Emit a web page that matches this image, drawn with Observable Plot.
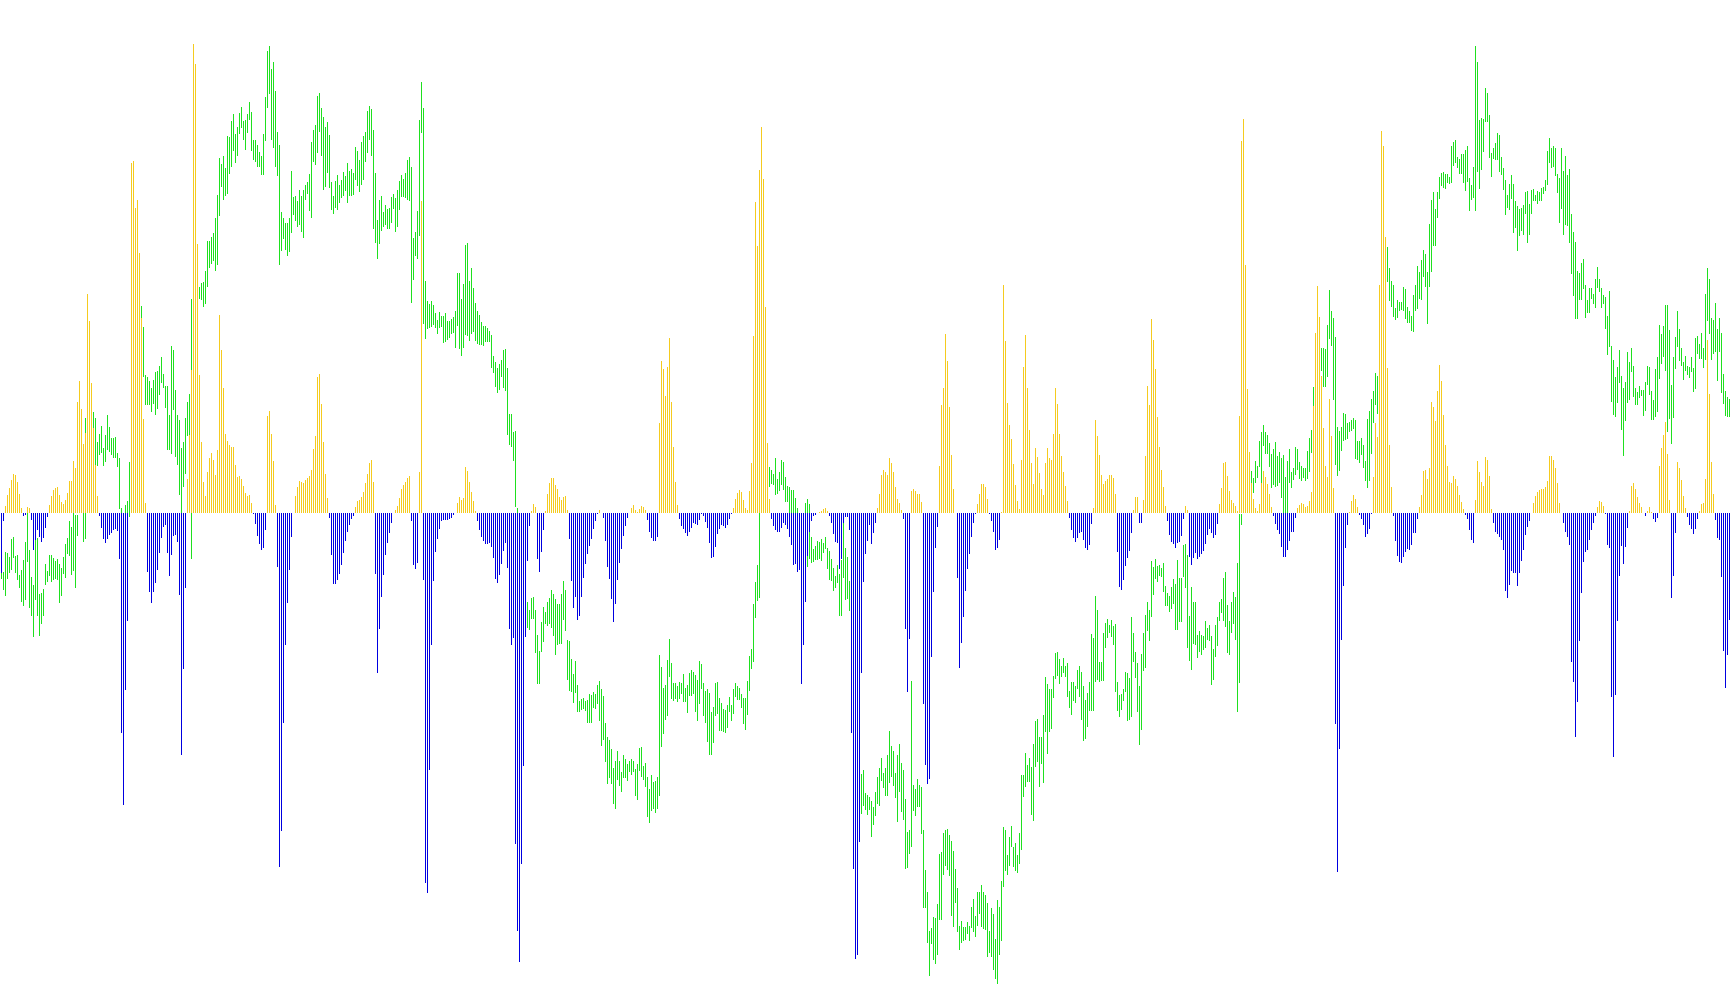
<!DOCTYPE html>
<html>
<head>
<meta charset="utf-8">
<title>Range bars and histogram</title>
<style>
html,body{margin:0;padding:0;background:#fff;overflow:hidden}
svg{display:block}
</style>
<script src="https://cdn.jsdelivr.net/npm/d3@7"></script>
<script src="https://cdn.jsdelivr.net/npm/@observablehq/plot@0.6"></script>
</head>
<body>
<div id="chart"></div>
<script>
const histogramA = [-60,-8,7,18,25,33,39,38,31,19,5,-3,-2,6,5,-7,-37,-27,-17,-24,-29,-25,-15,-4,8,17,23,25,26,18,11,9,13,20,32,32,52,45,111,132,104,69,80,219,192,130,85,48,17,-3,-15,-26,-30,-26,-22,-20,-17,-16,-18,-46,-220,-292,-177,-108,0,350,352,305,313,260,195,94,10,-59,-79,-90,-79,-70,-57,-40,-25,-14,-12,-40,-63,-42,-23,-22,-29,-82,-242,-156,-75,34,78,143,469,449,269,138,71,31,17,41,55,60,53,38,63,198,163,125,79,72,68,66,66,48,36,37,34,27,20,17,18,10,-1,-11,-23,-31,-37,-35,-17,97,102,79,52,8,-54,-354,-318,-210,-132,-90,-57];
const histogramB = [-24,0,17,26,32,31,30,33,35,37,43,64,77,136,139,109,71,39,15,-5,-42,-71,-71,-67,-61,-52,-40,-28,-19,-12,-6,-3,6,12,13,16,21,30,39,50,53,31,-61,-160,-116,-84,-62,-42,-30,-20,-10,0,3,7,15,24,28,31,35,37,-8,-52,-56,-50,41,312,-67,-370,-380,-257,-132,-68,-39,-26,-16,-8,-7,-7,-7,-6,-5,-2,0,10,16,13,15,46,42,31,21,12,2,-8,-17,-24,-28,-31,-31,-30,-34,-45,-66,-70,-62,-51,-38,-30,-55,-116,-132,-125,-331,-418,-449,-351,-253,-124,-48,-13,2,9,6,-46,-59,-39,-17,2,19,30,35,35,28,24,16,13,16,17,3,-26,-68,-95,-84,-107,-103];
const histogramC = [-84,-65,-51,-41,-33,-26,-16,-8,-1,3,0,-5,-28,-54,-66,-86,-109,-91,-67,-50,-36,-23,-13,-5,0,5,8,3,1,4,7,6,3,-7,-19,-25,-28,-28,-24,90,152,144,117,146,175,111,66,31,8,-6,-13,-16,-20,-23,-19,-15,-10,-11,-12,-7,-1,-3,-9,-15,-30,-45,-44,-34,-21,-16,-12,-13,-15,-12,-6,-1,5,14,20,23,21,13,5,3,22,50,177,311,267,343,386,334,206,70,14,-6,-13,-17,-19,-19,-15,-10,-12,-16,-24,-32,-52,-51,-59,-57,-171,-132,-89,-43,-19,-8,-3,-2,0,1,2,4,5,2,-3,-10,-21,-29,-30,-56,-46,-10,-4,-4,-17,-220,-356,-446,-442,-329,-160,-69,-41,-28,-12];
const histogramD = [-31,-20,-10,5,19,38,43,41,38,55,50,41,26,14,10,3,-6,-116,-179,-126,22,24,22,19,19,11,-191,-252,-271,-266,-144,-79,-35,-14,47,108,125,179,152,106,58,24,0,-65,-155,-130,-104,-78,-56,-41,-24,-10,-1,9,19,29,29,26,14,-1,-8,-19,-37,-35,-27,1,228,172,110,88,74,49,28,12,4,53,146,178,125,83,50,29,65,56,40,24,18,50,65,55,53,79,125,109,79,57,41,27,12,-5,-17,-25,-29,-25,-20,-19,-27,-35,-37,-32,-11,5,93,77,58,38,29,32,34,38,38,35,19,-39,-74,-77,-67,-53,-45,-38,-20,3,16,16,-10,-10,13,57,127,108,194,173,144,96,66];
const histogramE = [43,26,7,-8,-22,-29,-31,-35,-30,-29,-23,-6,7,3,-44,-52,-45,-40,-46,-44,-41,-38,-31,-22,-16,-20,-25,-22,-11,9,25,50,51,37,22,13,10,7,2,97,372,394,248,124,61,30,14,5,2,9,30,42,36,29,19,6,-3,-11,-17,-21,-34,-44,-44,-37,-28,-19,-19,-5,5,8,10,9,6,7,12,21,107,180,227,196,137,85,47,36,114,77,25,-211,-359,-236,-127,-73,-35,-12,1,12,18,14,6,-2,-6,-12,-24,-21,-16,-1,36,90,76,228,382,367,276,145,68,26,-3,-28,-43,-49,-50,-44,-39,-36,-37,-32,-20,-20,-6,6,18,42,43,34,45,111,106,92,122,148,132,98,68,47,31];
const histogramF = [30,37,34,27,18,11,4,-2,-6,-17,-27,-30,13,52,41,31,27,56,53,37,4,-10,-19,-21,-24,-27,-37,-78,-85,-72,-58,-60,-60,-73,-60,-48,-37,-22,-14,-8,0,10,17,21,23,24,24,26,32,57,57,53,45,30,10,0,-10,-19,-24,-32,-149,-169,-224,-189,-128,-80,-49,-39,-37,-27,-17,-10,-3,6,12,11,7,-1,-32,-35,-184,-244,-182,-108,-63,-33,-51,-34,-15,2,27,30,24,16,10,6,0,-3,2,6,1,-6,-9,-5,47,65,78,91,59,13,-85,-63,-20,51,45,33,17,5,-4,-12,-16,-21,-16,-6,2,9,10,34,173,119,51,19,-7,-25,-27,-64,-138,-175,-142,-107];

const highA = [-40,-59,-39,-40,-44,-26,-24,-43,-42,-62,-57,-47,-29,1,-37,-64,-72,-24,-25,-81,-80,-76,-51,-58,-42,-42,-45,-48,-46,-51,-55,-44,-31,-25,-8,-14,52,-2,-2,120,90,0,95,200,180,120,101,95,71,79,87,65,78,98,86,75,75,76,60,55,5,0,8,12,51,280,300,290,285,240,207,186,138,136,132,125,133,141,142,147,156,139,127,127,98,167,163,123,98,93,65,71,95,111,119,214,260,240,240,226,230,231,242,272,272,276,280,295,318,355,349,357,345,377,376,392,399,379,386,400,406,392,393,399,411,401,373,373,368,361,357,379,416,462,467,444,451,422,381,368,301,295,290,290,295];
const highB = [342,316,317,312,323,317,323,328,331,339,371,383,388,417,420,405,396,386,391,378,331,317,332,338,328,333,341,337,350,342,344,340,366,362,353,371,377,381,402,407,404,383,340,293,313,317,301,308,304,305,316,319,315,323,332,338,334,340,353,356,346,275,281,302,393,431,405,232,212,209,212,208,200,193,201,197,197,200,192,192,194,196,202,240,240,214,229,268,270,232,245,225,210,202,198,191,187,187,185,182,178,157,151,145,149,153,163,164,145,99,99,81,82,5,-60,-70,-80,-80,-89,-97,-85,-84,-97,-122,-138,-109,-94,-99,-89,-85,-77,-81,-86,-91,-91,-81,-68,-77,-127,-128,-146,-161,-148,-172,-188];
const highC = [-186,-185,-188,-187,-181,-182,-179,-181,-172,-168,-176,-183,-210,-224,-227,-236,-255,-248,-238,-248,-259,-242,-246,-251,-248,-246,-248,-256,-251,-235,-234,-253,-250,-264,-276,-262,-269,-268,-264,-142,-154,-175,-172,-147,-126,-150,-170,-170,-173,-169,-170,-161,-175,-172,-160,-157,-159,-162,-167,-148,-151,-170,-178,-176,-180,-199,-194,-170,-169,-185,-190,-196,-197,-192,-184,-192,-176,-170,-173,-175,-181,-185,-185,-168,-143,-136,-91,-69,-52,0,200,180,120,60,46,43,39,55,34,41,53,51,36,27,26,23,23,15,5,-5,-10,0,10,14,9,-24,-36,-33,-28,-29,-26,-30,-24,-35,-38,-46,-55,-63,-52,-61,-47,-10,-35,-44,-68,-100,-140,-180,-220,-250,-261,-257,-280,-282,-284];
const highD = [-288,-294,-279,-264,-255,-245,-260,-255,-242,-218,-233,-238,-260,-242,-231,-250,-257,-286,-319,-317,-168,-272,-276,-266,-272,-274,-317,-357,-379,-418,-415,-404,-405,-391,-341,-339,-320,-317,-316,-322,-328,-338,-356,-375,-413,-408,-414,-414,-409,-413,-394,-386,-403,-379,-379,-372,-379,-382,-390,-418,-395,-401,-426,-387,-394,-368,-314,-317,-342,-324,-313,-334,-330,-342,-320,-262,-262,-240,-252,-245,-254,-231,-208,-206,-224,-224,-202,-164,-171,-176,-176,-163,-140,-139,-146,-153,-145,-153,-150,-178,-169,-169,-173,-157,-153,-159,-173,-187,-180,-169,-121,-125,-83,-97,-149,-149,-120,-110,-106,-112,-107,-113,-111,-169,-182,-181,-176,-159,-160,-165,-104,-120,-139,-150,-173,-141,-120,-102,-89,-97,-48,-54,-46,-53,-52];
const highE = [-55,-50,-73,-80,-83,-74,-66,-71,-47,-65,-65,-32,-31,-42,-103,-74,-89,-89,-122,-118,-122,-123,-108,-115,-112,-123,-136,-112,-104,-89,-86,-65,-59,-92,-108,-89,-79,-84,-50,-1,-1,60,60,60,55,42,35,52,47,72,81,88,81,78,70,59,64,71,57,61,55,58,36,52,64,41,45,66,64,51,47,45,45,62,75,83,126,170,190,180,165,165,164,188,223,202,195,176,86,82,86,100,99,90,91,93,95,93,72,72,75,68,52,94,102,114,122,140,137,180,240,290,270,266,245,232,228,205,213,211,211,226,224,206,202,197,218,228,247,241,253,263,259,241,289,313,321,304,321,336,340,341,339,339,336];
const highF = [367,371,373,356,354,359,359,363,367,335,328,346,467,451,393,395,394,425,420,398,360,365,370,380,378,356,345,333,318,329,338,329,312,307,304,305,308,321,322,309,323,324,318,322,321,325,326,333,362,375,365,367,365,339,335,365,342,357,338,344,299,281,271,242,240,250,254,228,213,225,225,219,234,246,234,225,218,216,197,222,167,153,136,146,163,137,125,131,161,151,165,147,125,121,127,123,123,131,147,146,122,113,144,156,188,179,187,208,208,183,128,156,176,202,184,165,151,157,147,146,156,145,175,177,169,180,165,219,245,234,195,193,210,184,195,180,139,122,116,114];

const lowA = [-66,-77,-83,-66,-60,-57,-45,-60,-67,-75,-89,-93,-87,-49,-95,-103,-124,-87,-103,-123,-111,-103,-72,-69,-63,-69,-67,-66,-67,-90,-83,-61,-65,-41,-43,-62,-58,-75,-23,60,50,-29,-26,120,110,80,50,48,47,58,60,47,51,63,61,58,55,55,46,4,0,-10,-2,0,-4,210,220,215,210,200,140,136,108,108,108,101,109,98,104,118,130,125,105,63,63,59,103,56,48,18,0,26,39,77,78,-46,220,215,200,214,213,206,209,226,245,249,252,242,248,297,326,313,317,319,339,346,362,350,357,379,385,373,363,380,393,362,353,351,346,346,338,338,372,405,419,373,365,346,337,248,262,274,263,257,261];
const lowB = [280,298,292,286,288,281,275,313,319,302,295,351,348,360,381,357,323,326,340,325,303,299,305,303,310,315,317,322,310,317,317,318,333,327,321,328,333,351,360,373,357,284,270,254,269,282,286,288,284,284,290,304,281,286,303,316,316,315,313,312,210,233,257,254,277,380,189,174,184,185,186,188,185,179,185,186,170,171,173,175,179,180,165,187,164,157,165,178,177,172,179,181,172,169,168,168,167,171,171,171,145,140,126,120,123,136,125,122,78,68,66,52,6,-1,-130,-130,-130,-120,-115,-117,-106,-106,-140,-171,-171,-139,-129,-111,-113,-111,-115,-123,-142,-132,-131,-131,-107,-118,-167,-178,-179,-190,-180,-199,-199];
const lowC = [-197,-196,-198,-210,-210,-210,-195,-196,-191,-208,-233,-227,-249,-271,-265,-271,-291,-296,-267,-273,-279,-265,-265,-268,-259,-262,-259,-283,-287,-258,-264,-267,-274,-304,-310,-298,-296,-300,-296,-283,-234,-221,-207,-203,-164,-186,-188,-186,-189,-186,-181,-189,-189,-200,-183,-183,-181,-199,-208,-191,-176,-203,-210,-229,-242,-242,-230,-203,-201,-218,-218,-219,-220,-215,-199,-208,-201,-184,-187,-187,-195,-211,-217,-202,-178,-156,-149,-105,-88,-85,60,90,60,30,26,29,28,18,19,22,28,23,11,11,0,-5,-5,-5,-5,-45,-60,-50,-40,-54,-46,-50,-49,-47,-47,-46,-48,-40,-36,-56,-67,-68,-78,-75,-70,-103,-103,-65,-87,-86,-98,-170,-230,-280,-290,-300,-301,-293,-297,-302,-297];
const lowD = [-324,-312,-303,-291,-293,-268,-275,-283,-283,-270,-264,-273,-285,-309,-279,-299,-307,-356,-355,-341,-334,-298,-303,-294,-294,-321,-395,-395,-430,-463,-431,-447,-451,-442,-407,-407,-362,-353,-357,-363,-403,-414,-390,-419,-437,-430,-428,-427,-421,-428,-415,-419,-424,-413,-401,-414,-416,-417,-444,-440,-444,-457,-466,-471,-442,-428,-374,-358,-362,-353,-334,-354,-358,-360,-351,-337,-284,-274,-269,-269,-302,-308,-254,-249,-274,-251,-270,-219,-241,-219,-216,-185,-166,-163,-171,-164,-160,-164,-184,-195,-202,-188,-190,-176,-184,-207,-228,-226,-214,-198,-198,-198,-169,-167,-169,-168,-168,-135,-125,-120,-124,-132,-179,-198,-204,-197,-188,-179,-208,-207,-204,-149,-165,-199,-232,-217,-158,-155,-118,-128,-104,-82,-66,-69,-63];
const lowE = [-64,-79,-93,-93,-99,-96,-91,-117,-117,-109,-109,-64,-75,-135,-148,-157,-131,-132,-145,-139,-142,-137,-135,-127,-128,-172,-167,-144,-133,-108,-100,-108,-114,-140,-142,-120,-111,-127,-199,-170,-12,10,10,10,10,20,20,30,35,46,30,67,59,59,46,25,28,26,27,30,15,-5,-5,-5,30,25,33,38,43,34,32,35,32,34,41,60,90,130,150,142,142,126,126,136,174,167,113,48,37,42,62,72,73,74,81,82,84,54,53,50,58,45,32,25,32,59,90,108,99,110,180,220,230,231,212,206,196,193,195,202,203,202,194,190,190,182,181,202,204,214,213,236,226,189,226,241,267,267,295,314,327,325,324,330,329];
const lowF = [330,347,350,345,339,339,330,322,331,302,313,315,302,341,324,343,361,391,391,355,336,354,353,353,341,338,323,298,305,303,314,280,285,262,277,282,278,299,270,278,299,312,312,309,312,312,319,322,328,350,345,346,337,320,290,304,278,288,287,270,239,217,194,194,213,213,224,195,200,200,214,209,205,225,221,205,209,184,158,166,111,98,96,110,130,83,57,92,110,113,141,116,108,108,115,117,97,102,128,118,93,93,96,101,134,149,156,142,81,94,69,95,144,166,152,147,133,142,138,135,141,121,124,159,154,154,145,153,192,179,153,159,161,132,161,120,109,97,96,96];

const histogram = [...histogramA, ...histogramB, ...histogramC, ...histogramD, ...histogramE, ...histogramF];
const high = [...highA, ...highB, ...highC, ...highD, ...highE, ...highF];
const low = [...lowA, ...lowB, ...lowC, ...lowD, ...lowE, ...lowF];

const rows = histogram.map((value, i) => ({i, value, high: high[i], low: low[i]}));

const chart = Plot.plot({
  width: 1730,
  height: 1005,
  marginTop: 0, marginRight: 0, marginBottom: 0, marginLeft: 0,
  x: {domain: [0, 864], range: [1, 1729], axis: null},
  y: {domain: [513, -492], range: [0, 1005], axis: null},
  style: {background: "#ffffff"},
  marks: [
    Plot.ruleX(rows, {x: "i", y1: "low", y2: "high", stroke: "#1fe01f", strokeWidth: 1}),
    Plot.ruleX(rows.filter(d => d.value > 0), {x: "i", y1: 0, y2: "value", stroke: "#f5cb1f", strokeWidth: 1}),
    Plot.ruleX(rows.filter(d => d.value < 0), {x: "i", y1: 0, y2: "value", stroke: "#0000e0", strokeWidth: 1})
  ]
});
document.getElementById("chart").appendChild(chart);
</script>
</body>
</html>
